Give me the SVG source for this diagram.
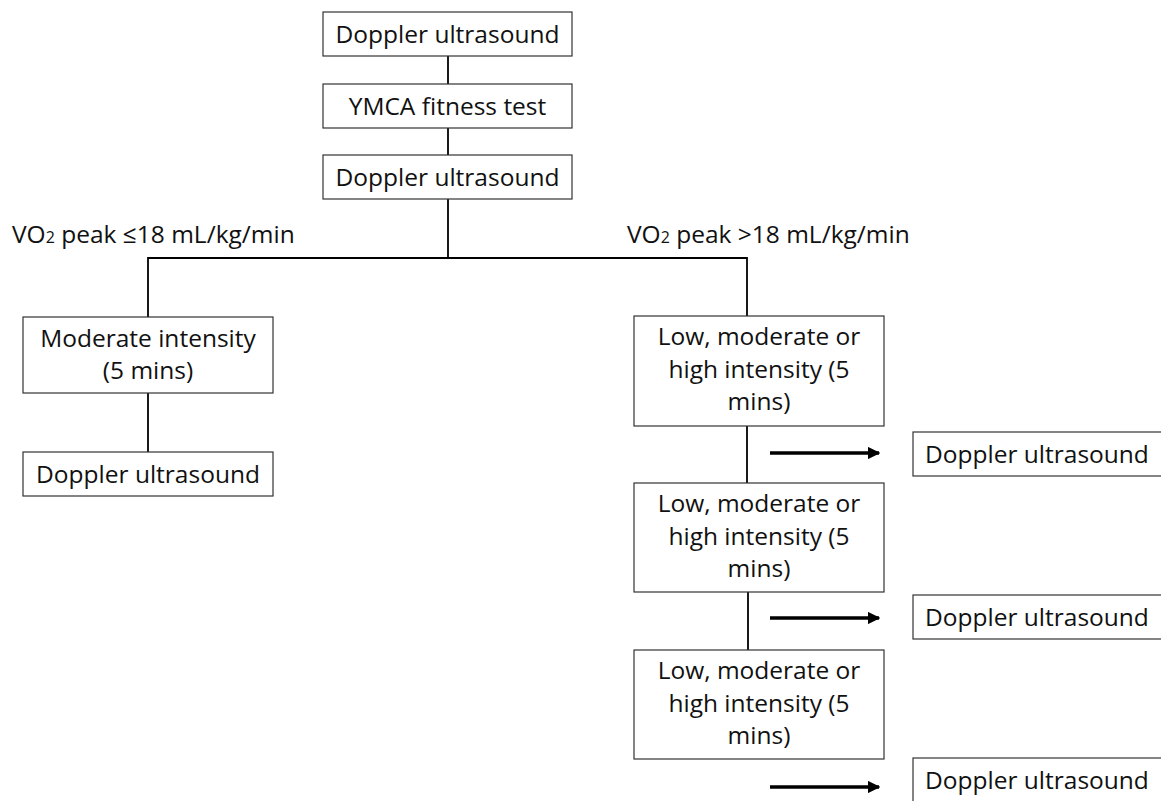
<svg xmlns="http://www.w3.org/2000/svg" width="1161" height="801" viewBox="0 0 1161 801">
<style>
.box{fill:#fff;stroke:#333;stroke-width:1.2}
.t{font-family:"Open Sans","Liberation Sans",sans-serif;font-size:24.5px;fill:#111}
.c{text-anchor:middle}
.ln{stroke:#000;stroke-width:1.8;fill:none}
.ar{stroke:#000;stroke-width:3.5;fill:none}
</style>
<defs>
<marker id="ah" viewBox="0 0 10 10" refX="9" refY="5" markerWidth="3.6" markerHeight="3.6" orient="auto" markerUnits="strokeWidth">
<path d="M0,0 L10,5 L0,10 z" fill="#000"/>
</marker>
</defs>
<rect width="1161" height="801" fill="#fff"/>
<g id="connectors">
<line class="ln" x1="448" y1="56" x2="448" y2="84"/>
<line class="ln" x1="448" y1="128" x2="448" y2="155"/>
<line class="ln" x1="448" y1="199" x2="448" y2="258"/>
<polyline class="ln" points="148,317 148,258 747,258 747,316"/>
<line class="ln" x1="148" y1="393" x2="148" y2="452"/>
<line class="ln" x1="747" y1="426" x2="747" y2="483"/>
<line class="ln" x1="748" y1="592" x2="748" y2="650"/>
<line class="ar" x1="770" y1="453" x2="879" y2="453" marker-end="url(#ah)"/>
<line class="ar" x1="770" y1="618" x2="879" y2="618" marker-end="url(#ah)"/>
<line class="ar" x1="770" y1="787" x2="879" y2="787" marker-end="url(#ah)"/>
</g>
<g id="label-left"><text class="t" x="12" y="243">VO<tspan font-size="16">2</tspan> peak ≤18 mL/kg/min</text></g>
<g id="label-right"><text class="t" x="627" y="243">VO<tspan font-size="16">2</tspan> peak &gt;18 mL/kg/min</text></g>
<g id="n1"><rect class="box" x="323" y="12" width="249" height="44"/><text class="t c" x="447.5" y="42.5">Doppler ultrasound</text></g>
<g id="n2"><rect class="box" x="323" y="84" width="249" height="44"/><text class="t c" x="447.5" y="114.5">YMCA fitness test</text></g>
<g id="n3"><rect class="box" x="323" y="155" width="249" height="44"/><text class="t c" x="447.5" y="185.5">Doppler ultrasound</text></g>
<g id="n4"><rect class="box" x="23" y="317" width="250" height="76"/><text class="t c" x="148" y="347">Moderate intensity</text><text class="t c" x="148" y="379">(5 mins)</text></g>
<g id="n5"><rect class="box" x="23" y="452" width="250" height="44"/><text class="t c" x="148" y="482.5">Doppler ultrasound</text></g>
<g id="n6"><rect class="box" x="634" y="316" width="250" height="110"/><text class="t c" x="759" y="345">Low, moderate or</text><text class="t c" x="759" y="377.5">high intensity (5</text><text class="t c" x="759" y="410">mins)</text></g>
<g id="n7"><rect class="box" x="913" y="432" width="252" height="44"/><text class="t" x="925" y="462.5">Doppler ultrasound</text></g>
<g id="n8"><rect class="box" x="634" y="483" width="250" height="109"/><text class="t c" x="759" y="512">Low, moderate or</text><text class="t c" x="759" y="544.5">high intensity (5</text><text class="t c" x="759" y="577">mins)</text></g>
<g id="n9"><rect class="box" x="913" y="595" width="252" height="44"/><text class="t" x="925" y="625.5">Doppler ultrasound</text></g>
<g id="n10"><rect class="box" x="634" y="650" width="250" height="109"/><text class="t c" x="759" y="679">Low, moderate or</text><text class="t c" x="759" y="711.5">high intensity (5</text><text class="t c" x="759" y="744">mins)</text></g>
<g id="n11"><rect class="box" x="913" y="758" width="252" height="50"/><text class="t" x="925" y="788.5">Doppler ultrasound</text></g>
</svg>
